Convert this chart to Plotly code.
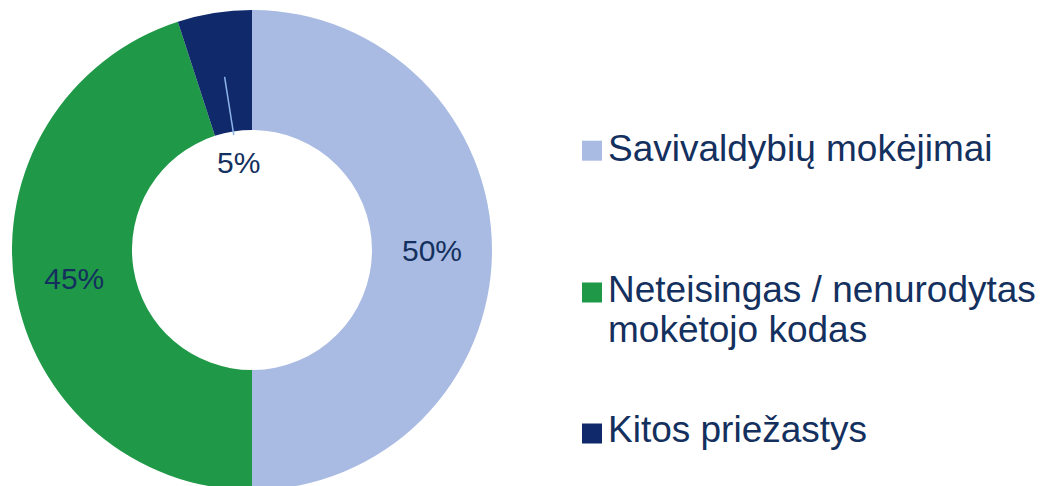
import math
import plotly.graph_objects as go

# ---- data ----
categories = ["Savivaldybių mokėjimai",
              "Neteisingas / nenurodytas mokėtojo kodas",
              "Kitos priežastys"]
legend_lines = [["Savivaldybių mokėjimai"],
                ["Neteisingas / nenurodytas", "mokėtojo kodas"],
                ["Kitos priežastys"]]
values = [50, 45, 5]
colors = ["#A9BBE2", "#1F9947", "#10296A"]
text_color = "#14305E"
font_family = "Liberation Sans, Arial, sans-serif"

W, H = 1048, 486
OFF = 8  # page body margin offset

# desired pie geometry in page pixels
PCX, PCY, PR = 252, 250, 240
fcx, fcy = PCX - OFF, PCY - OFF
dom_x = [(fcx - PR) / W, (fcx + PR) / W]
dom_y = [(H - (fcy + PR)) / H, (H - (fcy - PR)) / H]
hole = 0.5

fig = go.Figure(go.Pie(
    labels=categories,
    values=values,
    sort=False,
    direction="clockwise",
    rotation=0,
    hole=hole,
    marker=dict(colors=colors, line=dict(width=0)),
    texttemplate=["%{percent:.0%}", "%{percent:.0%}", ""],
    textposition="inside",
    insidetextorientation="horizontal",
    textfont=dict(size=30, color=text_color, family=font_family),
    domain=dict(x=dom_x, y=dom_y),
    hoverinfo="label+percent",
    showlegend=False,
))

cx = W * (dom_x[0] + dom_x[1]) / 2
cy = H * (1 - (dom_y[0] + dom_y[1]) / 2)
R = min(W * (dom_x[1] - dom_x[0]), H * (dom_y[1] - dom_y[0])) / 2

def to_paper(r, frac):
    th = 2 * math.pi * frac
    x = cx + r * math.sin(th)
    y = cy - r * math.cos(th)
    return x / W, (H - y) / H

total = sum(values)
mid_frac = (sum(values[:2]) + values[2] / 2) / total
lx, ly = to_paper(R * 0.37, mid_frac)
fig.add_annotation(x=lx, y=ly, xref="paper", yref="paper",
                   xanchor="center", yanchor="middle",
                   text=f"{round(values[2] / total * 100)}%", showarrow=False,
                   font=dict(size=30, color=text_color, family=font_family))
x0, y0 = to_paper(R * 0.485, mid_frac)
x1, y1 = to_paper(R * 0.73, mid_frac)
fig.add_shape(type="line", xref="paper", yref="paper", x0=x0, y0=y0, x1=x1, y1=y1,
              line=dict(color="#8DB4EA", width=1.5))

# custom legend (page pixel positions)
sq_x = 582 - OFF
sq = 20
sq_centers = [150.7, 292.5, 433.5]
baselines = [[163], [303, 343], [443]]
for i, lines in enumerate(legend_lines):
    yc = sq_centers[i] - OFF
    fig.add_shape(type="rect", xref="paper", yref="paper",
                  x0=sq_x / W, x1=(sq_x + sq) / W,
                  y0=(H - (yc + sq / 2)) / H, y1=(H - (yc - sq / 2)) / H,
                  fillcolor=colors[i], line=dict(width=0))
    for j, t in enumerate(lines):
        ty = baselines[i][j] - OFF - 22 + 8
        fig.add_annotation(x=(610 - 12) / W, y=(H - (ty)) / H, xref="paper", yref="paper",
                           text=t, showarrow=False, xanchor="left", yanchor="middle",
                           font=dict(size=37, color=text_color, family=font_family))

fig.update_layout(
    width=W, height=H,
    margin=dict(l=0, r=0, t=0, b=0),
    paper_bgcolor="white",
    plot_bgcolor="white",
)

fig.write_html("out.html")
